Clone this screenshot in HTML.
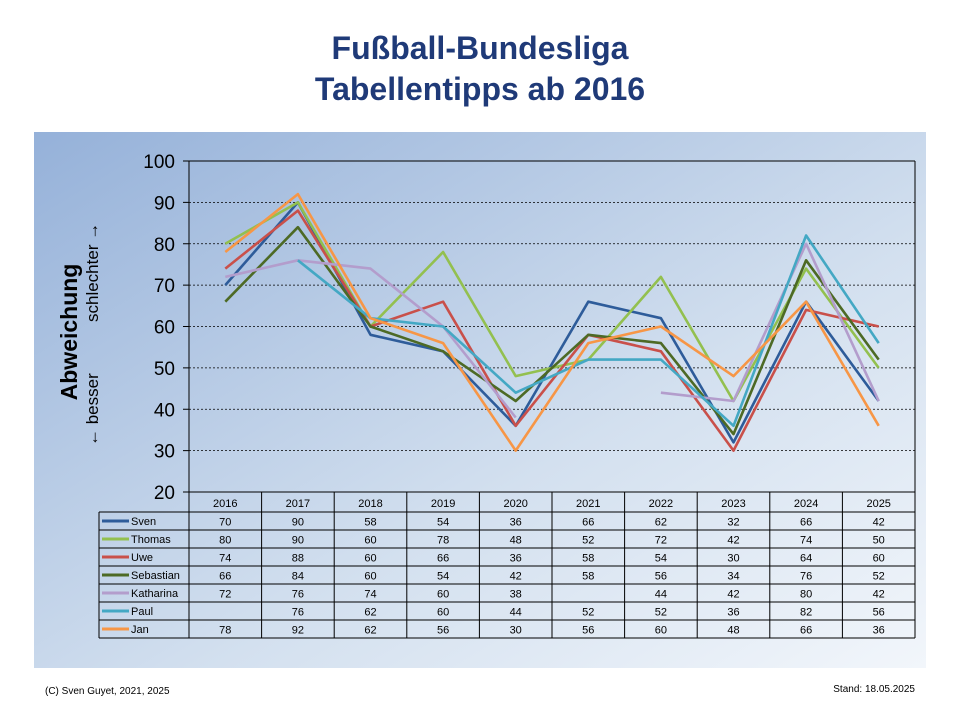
<!DOCTYPE html>
<html><head><meta charset="utf-8"><style>
html,body{margin:0;padding:0;background:#fff;width:960px;height:720px;overflow:hidden;font-family:"Liberation Sans",Arial,sans-serif}
</style></head><body>
<svg id="s" width="960" height="720" xmlns="http://www.w3.org/2000/svg" font-family="Liberation Sans, Arial, sans-serif">
<defs><linearGradient id="g" x1="0" y1="0" x2="1" y2="1">
<stop offset="0" stop-color="#95b1d9"/><stop offset="0.6" stop-color="#d3e0ef"/><stop offset="1" stop-color="#f2f6fb"/></linearGradient></defs>
<text x="480" y="59" text-anchor="middle" font-size="32" font-weight="bold" fill="#1f3a78">Fußball-Bundesliga</text>
<text x="480" y="100" text-anchor="middle" font-size="32" font-weight="bold" fill="#1f3a78">Tabellentipps ab 2016</text>
<rect x="34" y="132" width="892" height="536" fill="url(#g)"/>
<g id="plot"></g>
<text x="45" y="694" font-size="10">(C) Sven Guyet, 2021, 2025</text>
<text x="915" y="692" font-size="10" text-anchor="end">Stand: 18.05.2025</text>
</svg>
<script>
var s=document.getElementById('plot'),h='';
var L=189,R=915,T=161,B=492,cw=(R-L)/10;
function Y(v){return B-(v-20)*(B-T)/80}
function X(i){return L+cw*(i+.5)}
for(var v=20;v<=100;v+=10){var y=Y(v);
 if(v>20&&v<100)h+='<line x1="'+L+'" x2="'+R+'" y1="'+y+'" y2="'+y+'" stroke="#000" stroke-width="0.8" stroke-dasharray="2,2"/>';
 h+='<line x1="'+(L-6)+'" x2="'+L+'" y1="'+y+'" y2="'+y+'" stroke="#000"/>';
 h+='<text x="'+(L-14)+'" y="'+(y+7)+'" text-anchor="end" font-size="19">'+v+'</text>';}
h+='<line x1="'+L+'" x2="'+R+'" y1="'+T+'" y2="'+T+'" stroke="#000"/>';
h+='<line x1="'+L+'" x2="'+L+'" y1="'+T+'" y2="'+B+'" stroke="#000"/>';
h+='<line x1="'+R+'" x2="'+R+'" y1="'+T+'" y2="'+B+'" stroke="#000"/>';
h+='<text transform="translate(77,332) rotate(-90)" text-anchor="middle" font-size="23" font-weight="bold">Abweichung</text>';
h+='<text transform="translate(98,446) rotate(-90)" font-size="17">← besser</text>';
h+='<text transform="translate(98,322) rotate(-90)" font-size="17">schlechter →</text>';
var names=['Sven','Thomas','Uwe','Sebastian','Katharina','Paul','Jan'];
var cols=['#2e5c9a','#93c04f','#c9504a','#4d6a25','#b39dcc','#44a8c4','#f79646'];
var d=[[70,90,58,54,36,66,62,32,66,42],[80,90,60,78,48,52,72,42,74,50],[74,88,60,66,36,58,54,30,64,60],[66,84,60,54,42,58,56,34,76,52],[72,76,74,60,38,null,44,42,80,42],[null,76,62,60,44,52,52,36,82,56],[78,92,62,56,30,56,60,48,66,36]];
for(var k=0;k<7;k++){var p='',m='M';for(var i=0;i<10;i++){var v=d[k][i];if(v==null){m='M';continue;}p+=m+X(i).toFixed(1)+','+Y(v).toFixed(1)+' ';m='L';}
 h+='<path d="'+p+'" fill="none" stroke="'+cols[k]+'" stroke-width="2.6" stroke-linejoin="round"/>';}
var tb=492,hr=20,rh=18,LL=99,tB=tb+hr+rh*7;
h+='<line x1="'+L+'" x2="'+R+'" y1="'+B+'" y2="'+B+'" stroke="#000"/>';
for(var i=0;i<=10;i++){var x=L+cw*i;h+='<line x1="'+x+'" x2="'+x+'" y1="'+tb+'" y2="'+tB+'" stroke="#000"/>';}
h+='<line x1="'+LL+'" x2="'+LL+'" y1="'+(tb+hr)+'" y2="'+tB+'" stroke="#000"/>';
for(var r=0;r<=7;r++){var y=tb+hr+rh*r;h+='<line x1="'+LL+'" x2="'+R+'" y1="'+y+'" y2="'+y+'" stroke="#000"/>';}
for(var i=0;i<10;i++)h+='<text x="'+X(i)+'" y="'+(tb+15)+'" text-anchor="middle" font-size="11">'+(2016+i)+'</text>';
for(var k=0;k<7;k++){var y=tb+hr+rh*k;
 h+='<line x1="102" x2="129" y1="'+(y+9)+'" y2="'+(y+9)+'" stroke="'+cols[k]+'" stroke-width="3"/>';
 h+='<text x="131" y="'+(y+13)+'" font-size="11">'+names[k]+'</text>';
 for(var i=0;i<10;i++)if(d[k][i]!=null)h+='<text x="'+X(i)+'" y="'+(y+13.5)+'" text-anchor="middle" font-size="11">'+d[k][i]+'</text>';}
s.innerHTML=h;
</script>
</body></html>
